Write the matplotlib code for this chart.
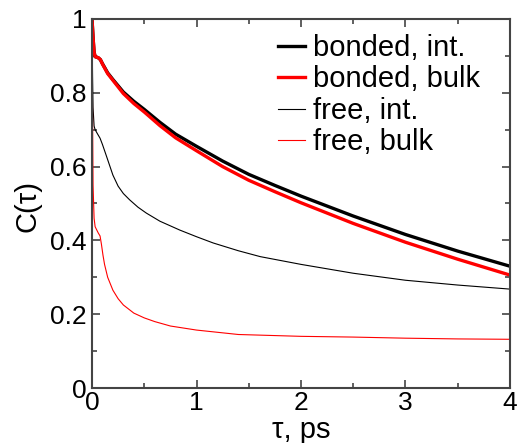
import matplotlib
matplotlib.use("Agg")
import matplotlib.pyplot as plt
from matplotlib.ticker import MultipleLocator

plt.rcParams['font.family'] = ['Liberation Sans', 'DejaVu Sans']

t_bonded = [0, 0.01, 0.02, 0.03, 0.06, 0.08, 0.1, 0.15, 0.2, 0.3, 0.4, 0.5, 0.65, 0.8,
            1.0, 1.25, 1.5, 1.75, 2.0, 2.5, 3.0, 3.5, 4.0]
bonded_int = [1.0, 0.95, 0.91, 0.898, 0.895, 0.89, 0.879, 0.854, 0.836, 0.802, 0.777, 0.755,
              0.72, 0.688, 0.655, 0.615, 0.579, 0.549, 0.520, 0.466, 0.416, 0.371, 0.330]
bonded_bulk = [1.0, 0.95, 0.91, 0.898, 0.895, 0.89, 0.878, 0.852, 0.834, 0.798, 0.771, 0.748,
               0.711, 0.678, 0.643, 0.600, 0.563, 0.532, 0.502, 0.446, 0.395, 0.349, 0.306]

t_free_int = [0, 0.005, 0.01, 0.02, 0.03, 0.05, 0.077, 0.1, 0.14, 0.2, 0.25, 0.3, 0.36,
              0.44, 0.52, 0.65, 0.84, 1.0, 1.16, 1.4, 1.61, 2.0, 2.5, 3.0, 3.5, 4.0]
free_int = [1.0, 0.85, 0.76, 0.71, 0.70, 0.69, 0.677, 0.66, 0.627, 0.577, 0.547, 0.527, 0.51,
            0.49, 0.474, 0.452, 0.428, 0.41, 0.393, 0.372, 0.356, 0.335, 0.311, 0.292,
            0.279, 0.268]

t_free_bulk = [0, 0.005, 0.01, 0.02, 0.03, 0.06, 0.077, 0.09, 0.105, 0.12, 0.15, 0.2, 0.25,
               0.3, 0.4, 0.5, 0.6, 0.75, 1.0, 1.4, 2.0, 2.5, 3.0, 3.5, 4.0]
free_bulk = [1.0, 0.75, 0.55, 0.46, 0.437, 0.42, 0.412, 0.39, 0.36, 0.335, 0.30, 0.265, 0.242,
             0.225, 0.203, 0.19, 0.18, 0.168, 0.157, 0.145, 0.14, 0.138, 0.135, 0.133, 0.132]

x_ticks = [0, 1, 2, 3, 4]
x_labels = ['0', '1', '2', '3', '4']
y_ticks = [0, 0.2, 0.4, 0.6, 0.8, 1.0]
y_labels = ['0', '0.2', '0.4', '0.6', '0.8', '1']

fig = plt.figure(figsize=(5.17, 4.43), dpi=100)
ax = fig.add_axes([92/517, 1-388/443, (510-92)/517, (388-19)/443])

ax.plot(t_bonded, bonded_int, color='black', lw=2.4, label='bonded, int.')
ax.plot(t_bonded, bonded_bulk, color='red', lw=2.4, label='bonded, bulk')
ax.plot(t_free_int, free_int, color='black', lw=0.8, label='free, int.')
ax.plot(t_free_bulk, free_bulk, color='red', lw=0.8, label='free, bulk')

ax.set_xlim(0, 4)
ax.set_ylim(0, 1)
ax.set_xticks(x_ticks)
ax.set_xticklabels(x_labels)
ax.set_yticks(y_ticks)
ax.set_yticklabels(y_labels)
ax.xaxis.set_minor_locator(MultipleLocator(0.5))
ax.yaxis.set_minor_locator(MultipleLocator(0.1))
ax.tick_params(which='both', direction='in', top=True, right=True, labelsize=19,
               color='#444444', width=1.2)
ax.tick_params(which='major', length=6, pad=4)
ax.tick_params(axis='x', which='major', pad=2)
ax.tick_params(which='minor', length=3.5)
for s in ax.spines.values():
    s.set_color('#444444')
    s.set_linewidth(1.5)

ax.set_xlabel('τ, ps', fontsize=21)
ax.set_ylabel('C(τ)', fontsize=21)
ax.xaxis.set_label_coords(0.5, (388-416)/369)
ax.yaxis.set_label_coords((41-92)/418, (388-206)/369)

ax.legend(loc='upper right', bbox_to_anchor=((480-92)/418, (388-34)/369), frameon=False,
          fontsize=21, handlelength=0.92, handletextpad=0.28, labelspacing=0.12,
          borderaxespad=0, borderpad=0)

fig.savefig('out.png', dpi=100)
